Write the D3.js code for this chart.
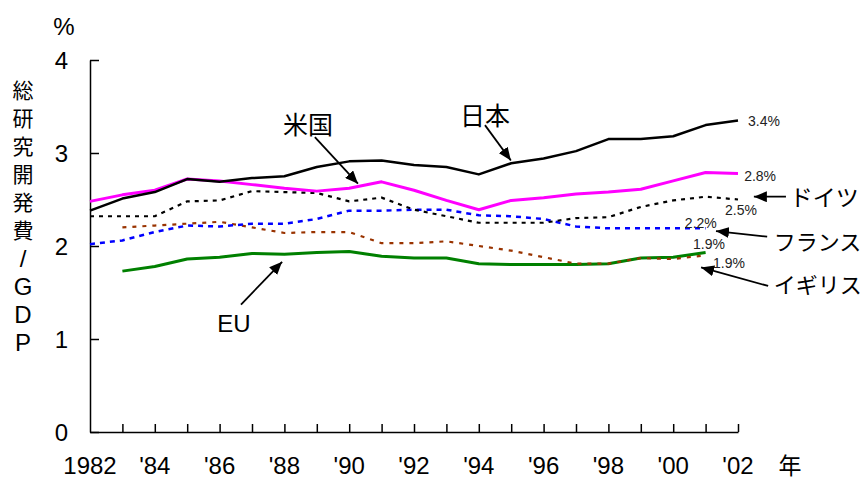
<!DOCTYPE html>
<html><head><meta charset="utf-8">
<script src="https://cdn.jsdelivr.net/npm/d3@7/dist/d3.min.js"></script>
<style>
html,body{margin:0;padding:0;background:#fff;}
svg{display:block;}
text{font-family:"Liberation Sans",Arial,"Noto Sans CJK JP",sans-serif;fill:#000;}
.jp{font-family:"Noto Sans CJK JP","Liberation Sans",sans-serif;}
</style></head>
<body>
<script>
// ---- data ----
const years = [1982,1983,1984,1985,1986,1987,1988,1989,1990,1991,1992,1993,1994,1995,1996,1997,1998,1999,2000,2001,2002];
const japan   = [2.38,2.51,2.58,2.72,2.69,2.73,2.75,2.85,2.91,2.92,2.87,2.85,2.77,2.89,2.94,3.02,3.15,3.15,3.18,3.30,3.35];
const usa     = [2.48,2.55,2.60,2.72,2.70,2.66,2.62,2.59,2.62,2.69,2.60,2.49,2.39,2.49,2.52,2.56,2.58,2.61,2.70,2.79,2.78];
const germany = [2.32,2.32,2.32,2.48,2.49,2.59,2.58,2.57,2.48,2.52,2.39,2.32,2.25,2.25,2.25,2.30,2.31,2.42,2.49,2.53,2.50];
const france  = [2.02,2.06,2.15,2.22,2.21,2.24,2.24,2.29,2.38,2.38,2.39,2.39,2.33,2.32,2.29,2.21,2.19,2.19,2.19,2.19,null];
const uk      = [null,2.20,2.22,2.24,2.26,2.20,2.14,2.15,2.15,2.03,2.03,2.05,2.00,1.95,1.88,1.81,1.81,1.87,1.86,1.90,null];
const eu      = [null,1.73,1.78,1.86,1.88,1.92,1.91,1.93,1.94,1.89,1.87,1.87,1.81,1.80,1.80,1.80,1.81,1.87,1.88,1.93,null];
const yTicks = [0,1,2,3,4];
const xTickLabels = {1982:"1982",1984:"'84",1986:"'86",1988:"'88",1990:"'90",1992:"'92",1994:"'94",1996:"'96",1998:"'98",2000:"'00",2002:"'02"};
const yTitle = ["総","研","究","開","発","費","/","G","D","P"];
const endLabels = ["3.4%","2.8%","2.5%","2.2%","1.9%","1.9%"];
const countryNames = ["米国","日本","EU","ドイツ","フランス","イギリス"];

// ---- layout ----
const W = 867, H = 483;
const svg = d3.select("body").append("svg").attr("width",W).attr("height",H);
const x = d3.scaleLinear().domain([1982,2002]).range([90,738]);
const y = d3.scaleLinear().domain([0,4]).range([432,60]);

svg.append("defs").append("marker")
  .attr("id","ah").attr("markerUnits","userSpaceOnUse")
  .attr("markerWidth",14).attr("markerHeight",11)
  .attr("refX",13).attr("refY",5.5).attr("orient","auto")
  .append("path").attr("d","M0,0 L13,5.5 L0,11 Z").attr("fill","#000");

// axes
const yAxis = d3.axisLeft(y).tickValues(yTicks).tickFormat(d3.format("d"))
  .tickSizeInner(-9).tickSizeOuter(0).tickPadding(22);
const gy = svg.append("g").attr("transform","translate(90,0)").call(yAxis);
gy.selectAll("text").style("font-size","24px").attr("dy","0.35em");

const xAxis = d3.axisBottom(x).tickValues(years.filter(v=>v>1982))
  .tickFormat(d=>"").tickSizeInner(-8).tickSizeOuter(0);
const gx = svg.append("g").attr("transform","translate(0,432)").call(xAxis);
[gx,gy].forEach(g=>{g.selectAll("path,line").attr("stroke","#000").attr("stroke-width",1.5);});

svg.append("g").selectAll("text").data(Object.keys(xTickLabels).map(Number)).join("text")
  .attr("x",d=>x(d)).attr("y",466).attr("dy","0.35em").attr("text-anchor","middle")
  .style("font-size","24px").text(d=>xTickLabels[d]);
svg.append("text").attr("class","jp").attr("x",x(2002)+52).attr("y",466).attr("dy","0.35em")
  .attr("text-anchor","middle").style("font-size","23px").text("年");
svg.append("text").attr("x",64).attr("y",27).attr("dy","0.35em").attr("text-anchor","middle")
  .style("font-size","24px").text("%");
svg.append("g").selectAll("text").data(yTitle).join("text")
  .attr("class",(d,i)=>i<6?"jp":null)
  .attr("x",23).attr("y",(d,i)=>91+i*27.9).attr("dy","0.35em").attr("text-anchor","middle")
  .style("font-size",(d,i)=>i<6?"21px":"24px").text(d=>d);

// lines
const series = [
  {v:eu, color:"#008000", w:3, dash:null},
  {v:uk, color:"#993300", w:2.2, dash:"4,6"},
  {v:france, color:"#0000ff", w:2.5, dash:"5,5"},
  {v:germany, color:"#000000", w:2.2, dash:"4,5"},
  {v:usa, color:"#ff00ff", w:3, dash:null},
  {v:japan, color:"#000000", w:2.5, dash:null}
];
const line = d3.line().defined(d=>d[1]!=null).x(d=>x(d[0])).y(d=>y(d[1]));
svg.append("g").selectAll("path").data(series).join("path")
  .attr("d",s=>line(years.map((yr,i)=>[yr,s.v[i]])))
  .attr("fill","none").attr("stroke",s=>s.color).attr("stroke-width",s=>s.w)
  .attr("stroke-dasharray",s=>s.dash).attr("stroke-linejoin","round");

// end value labels (positions in data units)
const endPos = [[2002.31,3.34],[2002.19,2.75],[2001.6,2.39],[2000.36,2.25],[2000.61,2.02],[2001.23,1.82]];
svg.append("g").selectAll("text").data(endLabels).join("text")
  .attr("x",(d,i)=>x(endPos[i][0])).attr("y",(d,i)=>y(endPos[i][1])).attr("dy","0.35em")
  .style("font-size","14px").style("fill","#222").text(d=>d);

// country labels with arrows (data units)
const ann = [
  {t:[1988.73,3.30], anchor:"middle", size:25, a:[[1988.94,3.17],[1990.27,2.67]]},
  {t:[1994.19,3.40], anchor:"middle", size:25, a:[[1994.19,3.30],[1994.99,2.92]]},
  {t:[1986.44,1.17], anchor:"middle", size:24, a:[[1986.66,1.37],[1987.93,1.83]]},
  {t:[2003.6,2.52], anchor:"start", size:23, a:[[2003.48,2.53],[2002.49,2.53]]},
  {t:[2003.1,2.04], anchor:"start", size:22, a:[[2002.9,2.10],[2001.32,2.16]]},
  {t:[2003.1,1.58], anchor:"start", size:22, a:[[2002.93,1.57],[2000.86,1.77]]}
];
const ga = svg.append("g");
ann.forEach((o,i)=>{
  ga.append("line").attr("x1",x(o.a[0][0])).attr("y1",y(o.a[0][1]))
    .attr("x2",x(o.a[1][0])).attr("y2",y(o.a[1][1]))
    .attr("stroke","#000").attr("stroke-width",1.8).attr("marker-end","url(#ah)");
  ga.append("text").attr("class",i===2?null:"jp")
    .attr("x",x(o.t[0])).attr("y",y(o.t[1])).attr("dy","0.35em")
    .attr("text-anchor",o.anchor).style("font-size",o.size+"px").text(countryNames[i]);
});
</script>
</body></html>
